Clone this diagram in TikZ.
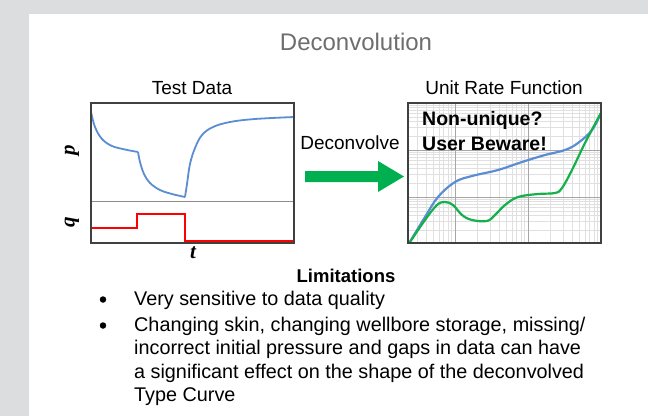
\documentclass[tikz,border=0pt]{standalone}
\usepackage{fontspec}
\setmainfont{Liberation Sans}
\newfontfamily\axisfont{Liberation Serif}
\usetikzlibrary{calc}
\definecolor{slidegray}{HTML}{DCDDDF}
\definecolor{titlegray}{HTML}{6E6E6E}
\definecolor{presblue}{HTML}{5B8DD3}
\definecolor{urfgreen}{HTML}{14B04A}
\definecolor{arrowgreen}{HTML}{00B050}
\tikzset{
  heading/.style={font=\fontsize{19}{21}\selectfont, inner sep=0pt},
  axislabel/.style={font=\fontsize{21}{23}\selectfont\axisfont\bfseries\itshape, inner sep=0pt},
  bodytext/.style={font=\fontsize{19.8}{23.5}\selectfont, inner sep=0pt, anchor=base west},
  bulletdot/.style={circle, fill=black, inner sep=0pt, minimum size=6.5pt},
  minorgrid/.style={draw=black!12, line width=0.5pt},
  majorgrid/.style={draw=black!35, line width=0.6pt},
}
\begin{document}
\begin{tikzpicture}[x=1pt, y=-1pt]
%%%%% START %%%%%

\useasboundingbox (0,0) rectangle (648,416);
\fill[slidegray] (0,0) rectangle (648,416);
\fill[white] (29,14) rectangle (648,416);

\node[heading, text=titlegray, font=\fontsize{24}{26}\selectfont] (title) at (356,42) {Deconvolution};
\node[heading] (testdata) at (192,88) {Test Data};
\node[heading] (urftitle) at (504,88) {Unit Rate Function};

% test data plot
\draw[black!45, line width=1pt] (91,201) -- (294,201);
\draw[presblue, line width=1.8pt] plot[smooth, tension=0.6] coordinates {(91,112) (95,127) (102,139) (112,146) (125,149.5) (138,152)};
\draw[presblue, line width=1.8pt] plot[smooth, tension=0.6] coordinates {(138,152) (140,162) (144,174) (150,183) (160,190) (172,194) (185,197)};
\draw[presblue, line width=1.8pt] plot[smooth, tension=0.6] coordinates {(185,197) (187,184) (190,164) (195,148) (202,135) (213,127) (230,122) (255,119) (294,117)};
\draw[red, line width=1.8pt] (91,228) -- (137,228) -- (137,214) -- (185,214) -- (185,241) -- (294,241);
\draw[black!75, line width=1.2pt] (91,103) rectangle (294,243);
\node[axislabel, rotate=90] (plabel) at (72,150) {p};
\node[axislabel, rotate=90] (qlabel) at (72,222) {q};
\node[axislabel] (tlabel) at (193,253) {t};

% deconvolve arrow
\node[heading] (deconv) at (350,143) {Deconvolve};
\fill[arrowgreen] (305,171) -- (378,171) -- (378,161) -- (404,176.5) -- (378,192) -- (378,182) -- (305,182) -- cycle;

% unit rate function plot
\begin{scope}
\clip (408,103) rectangle (601,243);
\foreach \dec in {382,455,528}{
  \foreach \k in {2,...,9}
    \draw[minorgrid] ({\dec+73*log10(\k)},103) -- ++(0,140);
}
\foreach \dec in {244,197,150}{
  \foreach \k in {2,...,9}
    \draw[minorgrid] (408,{\dec-47*log10(\k)}) -- ++(193,0);
}
\foreach \xx in {455,528}
  \draw[majorgrid] (\xx,103) -- (\xx,243);
\foreach \yy in {150,197}
  \draw[majorgrid] (408,\yy) -- (601,\yy);
\draw[presblue, line width=2.2pt] plot[smooth, tension=0.6] coordinates {(408,245) (425,217) (438,197) (455,182) (472,176) (498,170) (522,162) (545,155) (565,150) (578,143) (592,130) (602,111)};
\draw[urfgreen, line width=2.2pt] plot[smooth, tension=0.6] coordinates {(408,245) (425,220) (437,205) (445,202) (453,205) (462,215) (472,220) (487,221) (495,215) (505,205) (518,197) (538,194) (555,193) (562,188) (572,170) (585,143) (602,111)};
\end{scope}
\draw[black!75, line width=1.2pt] (408,103) rectangle (601,243);
\node[heading, font=\fontsize{19.5}{25}\selectfont\bfseries, anchor=base west] (nonunique) at (422,125) {Non-unique?};
\node[heading, font=\fontsize{19.5}{25}\selectfont\bfseries, anchor=base west] (beware) at (422,150) {User Beware!};

% limitations
\node[heading, font=\fontsize{18.5}{21}\selectfont\bfseries] (limits) at (346,276) {Limitations};
\node[bulletdot] (dotone) at (103,299.5) {};
\node[bulletdot] (dottwo) at (103,325.5) {};
\node[bodytext] (lineone) at (134,305) {Very sensitive to data quality};
\node[bodytext] (linetwo) at (134,331) {Changing skin, changing wellbore storage, missing/};
\node[bodytext] (linethree) at (134,354.5) {incorrect initial pressure and gaps in data can have};
\node[bodytext] (linefour) at (134,378) {a significant effect on the shape of the deconvolved};
\node[bodytext] (linefive) at (134,401.5) {Type Curve};

%%%%% END %%%%%
\end{tikzpicture}
\end{document}
